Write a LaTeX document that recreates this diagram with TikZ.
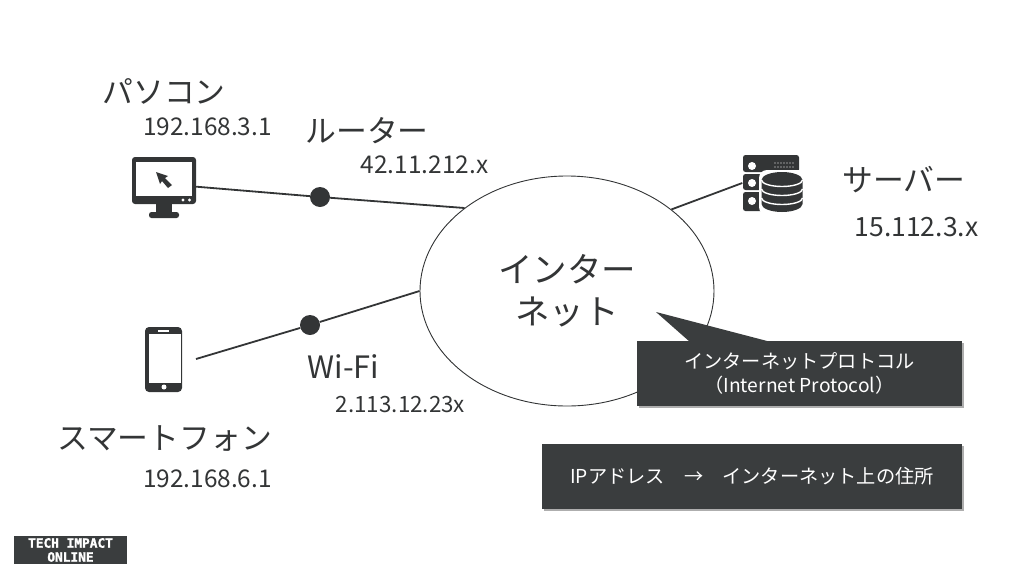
\documentclass[tikz,border=0pt]{standalone}
\usepackage{fontspec}
\setmainfont{Noto Sans CJK JP}
\newfontfamily\logofont[FakeBold=1.6]{DejaVu Sans Mono Bold}
\usepackage{xcolor}
\usepackage{tikz}
\usetikzlibrary{positioning, calc, shapes.geometric, shadows}
\definecolor{ink}{RGB}{51,53,54}
\definecolor{panel}{RGB}{58,61,62}
\tikzset{
  iconbox/.style={draw=none, fill=none, inner sep=0pt},
  cloud oval/.style={
    ellipse, draw=ink, line width=0.9pt, fill=white, inner sep=0pt,
    minimum width=294pt, minimum height=230pt, align=center, text=ink,
    font=\fontsize{34.5}{42}\selectfont
  },
  junction/.style={circle, fill=ink, inner sep=0pt, minimum size=20pt},
  link/.style={draw=ink, line width=1.8pt},
  namelabel/.style={text=ink, inner sep=0pt, font=\fontsize{30.8}{36}\selectfont},
  addrlabel/.style={text=ink, inner sep=0pt, font=\fontsize{24.4}{28}\selectfont},
  panelbox/.style={
    fill=panel, text=white, inner sep=0pt, align=center,
    font=\fontsize{19.2}{24}\selectfont,
    drop shadow={shadow xshift=1.5pt, shadow yshift=-1.5pt, fill=black!45, opacity=0.7}
  },
  pc icon/.pic={
    \fill[ink, rounded corners=3pt] (-32,-24) rectangle (32,23);
    \fill[white] (-28,-19) rectangle (28,15);
    \fill[ink] (-8,23) rectangle (8,32);
    \fill[ink, rounded corners=2.5pt] (-15,31) rectangle (15,37);
    \fill[white] (19,19) circle (1.6) (25.5,19) circle (1.6);
    \fill[ink] (-8,-9) -- (4,-5) -- (1,-3) -- (8,4) -- (4,7) -- (-2,0) -- (-4,3) -- cycle;
  },
  phone icon/.pic={
    \fill[ink, rounded corners=4pt] (-18.5,-32.5) rectangle (18.5,32.5);
    \fill[white] (-14.5,-25.5) rectangle (17,23.5);
    \fill[white] (-5.5,-29.5) rectangle (5.5,-27.5);
    \fill[white] (0.5,27.5) circle (2.5);
  },
  server icon/.pic={
    \fill[ink, rounded corners=2.5pt] (-28,-28) rectangle (28,-11);
    \fill[ink, rounded corners=2.5pt] (-28,-9) rectangle (28,7);
    \fill[ink, rounded corners=2.5pt] (-28,9) rectangle (28,28);
    \foreach \rowy in {-17,0,18} \fill[white] (-19,\rowy) circle (4);
    \foreach \doty in {-20,-16} \foreach \dotx in {4,7,...,22} \fill[white] (\dotx,\doty) circle (0.7);
    % database stack
    \fill[white, rounded corners=8pt] (-12,-13) rectangle (35,32);
    \fill[ink] (-9.5,-3) arc[start angle=180, end angle=360, x radius=20.5, y radius=8]
      -- (31.5,21) arc[start angle=0, end angle=180, x radius=20.5, y radius=8] -- cycle;
    \foreach \archy in {-3,6,15}
      \draw[white, line width=1.4pt] (-9.5,\archy) arc[start angle=180, end angle=0, x radius=20.5, y radius=6.5];
  },
}
\begin{document}
\begin{tikzpicture}[x=1pt, y=-1pt]
  \useasboundingbox (0,0) rectangle (1024,576);

  \node[iconbox, minimum width=64pt, minimum height=48pt] (pc) at (164,181) {};
  \node[iconbox, minimum width=37pt, minimum height=65pt] (phone) at (163.5,359.5) {};
  \node[iconbox, minimum width=57pt, minimum height=56pt] (server) at (771,183) {};
  \coordinate (phoneend) at (196,359);
  \pic at (pc) {pc icon};
  \pic at (phone) {phone icon};
  \pic at (server) {server icon};

  \node[junction] (router) at (320,197) {};
  \node[junction] (wifi) at (310,325) {};
  \node[cloud oval] (internet) at (567,291) {インター\\ネット};

  \draw[link] (pc.-10) -- (router) -- (internet.141.7);
  \draw[link] (phoneend) -- (wifi) -- (internet.west);
  \draw[link] (internet.38.3) -- (server.west);

  \node[namelabel] (pcname) at (164,91) {パソコン};
  \node[addrlabel] (pcaddr) at (207.5,127) {192.168.3.1};
  \node[namelabel] (routername) at (367,131) {ルーター};
  \node[addrlabel] (routeraddr) at (424.5,165) {42.11.212.x};
  \node[namelabel] (servername) at (904,180) {サーバー};
  \node[addrlabel, font=\fontsize{26.5}{30}\selectfont] (serveraddr) at (916.5,227) {15.112.3.x};
  \node[namelabel] (wifiname) at (343.5,367) {Wi-Fi};
  \node[addrlabel, font=\fontsize{22.4}{26}\selectfont] (wifiaddr) at (400.5,405) {2.113.12.23x};
  \node[namelabel] (phonename) at (164.5,439) {スマートフォン};
  \node[addrlabel] (phoneaddr) at (207.5,479) {192.168.6.1};

  \node[panelbox, minimum width=325pt, minimum height=65pt] (protocol) at (799.5,373.5)
    {インターネットプロトコル\\（Internet Protocol）};
  \coordinate (calloutleft) at (690,342);
  \coordinate (calloutright) at (771,342);
  \coordinate (callouttip) at (656,312);
  \fill[panel] (calloutleft) -- (callouttip) -- (calloutright) -- cycle;
  \node[panelbox, minimum width=420pt, minimum height=65pt] (ipaddress) at (752,476.5)
    {IPアドレス　→　インターネット上の住所};

  \node[fill=panel, text=white, minimum width=113pt, minimum height=28pt, inner sep=0pt, align=center,
    font=\logofont\fontsize{12.8}{14}\selectfont] (logo) at (70.5,550) {TECH IMPACT\\ONLINE};
\end{tikzpicture}
\end{document}
